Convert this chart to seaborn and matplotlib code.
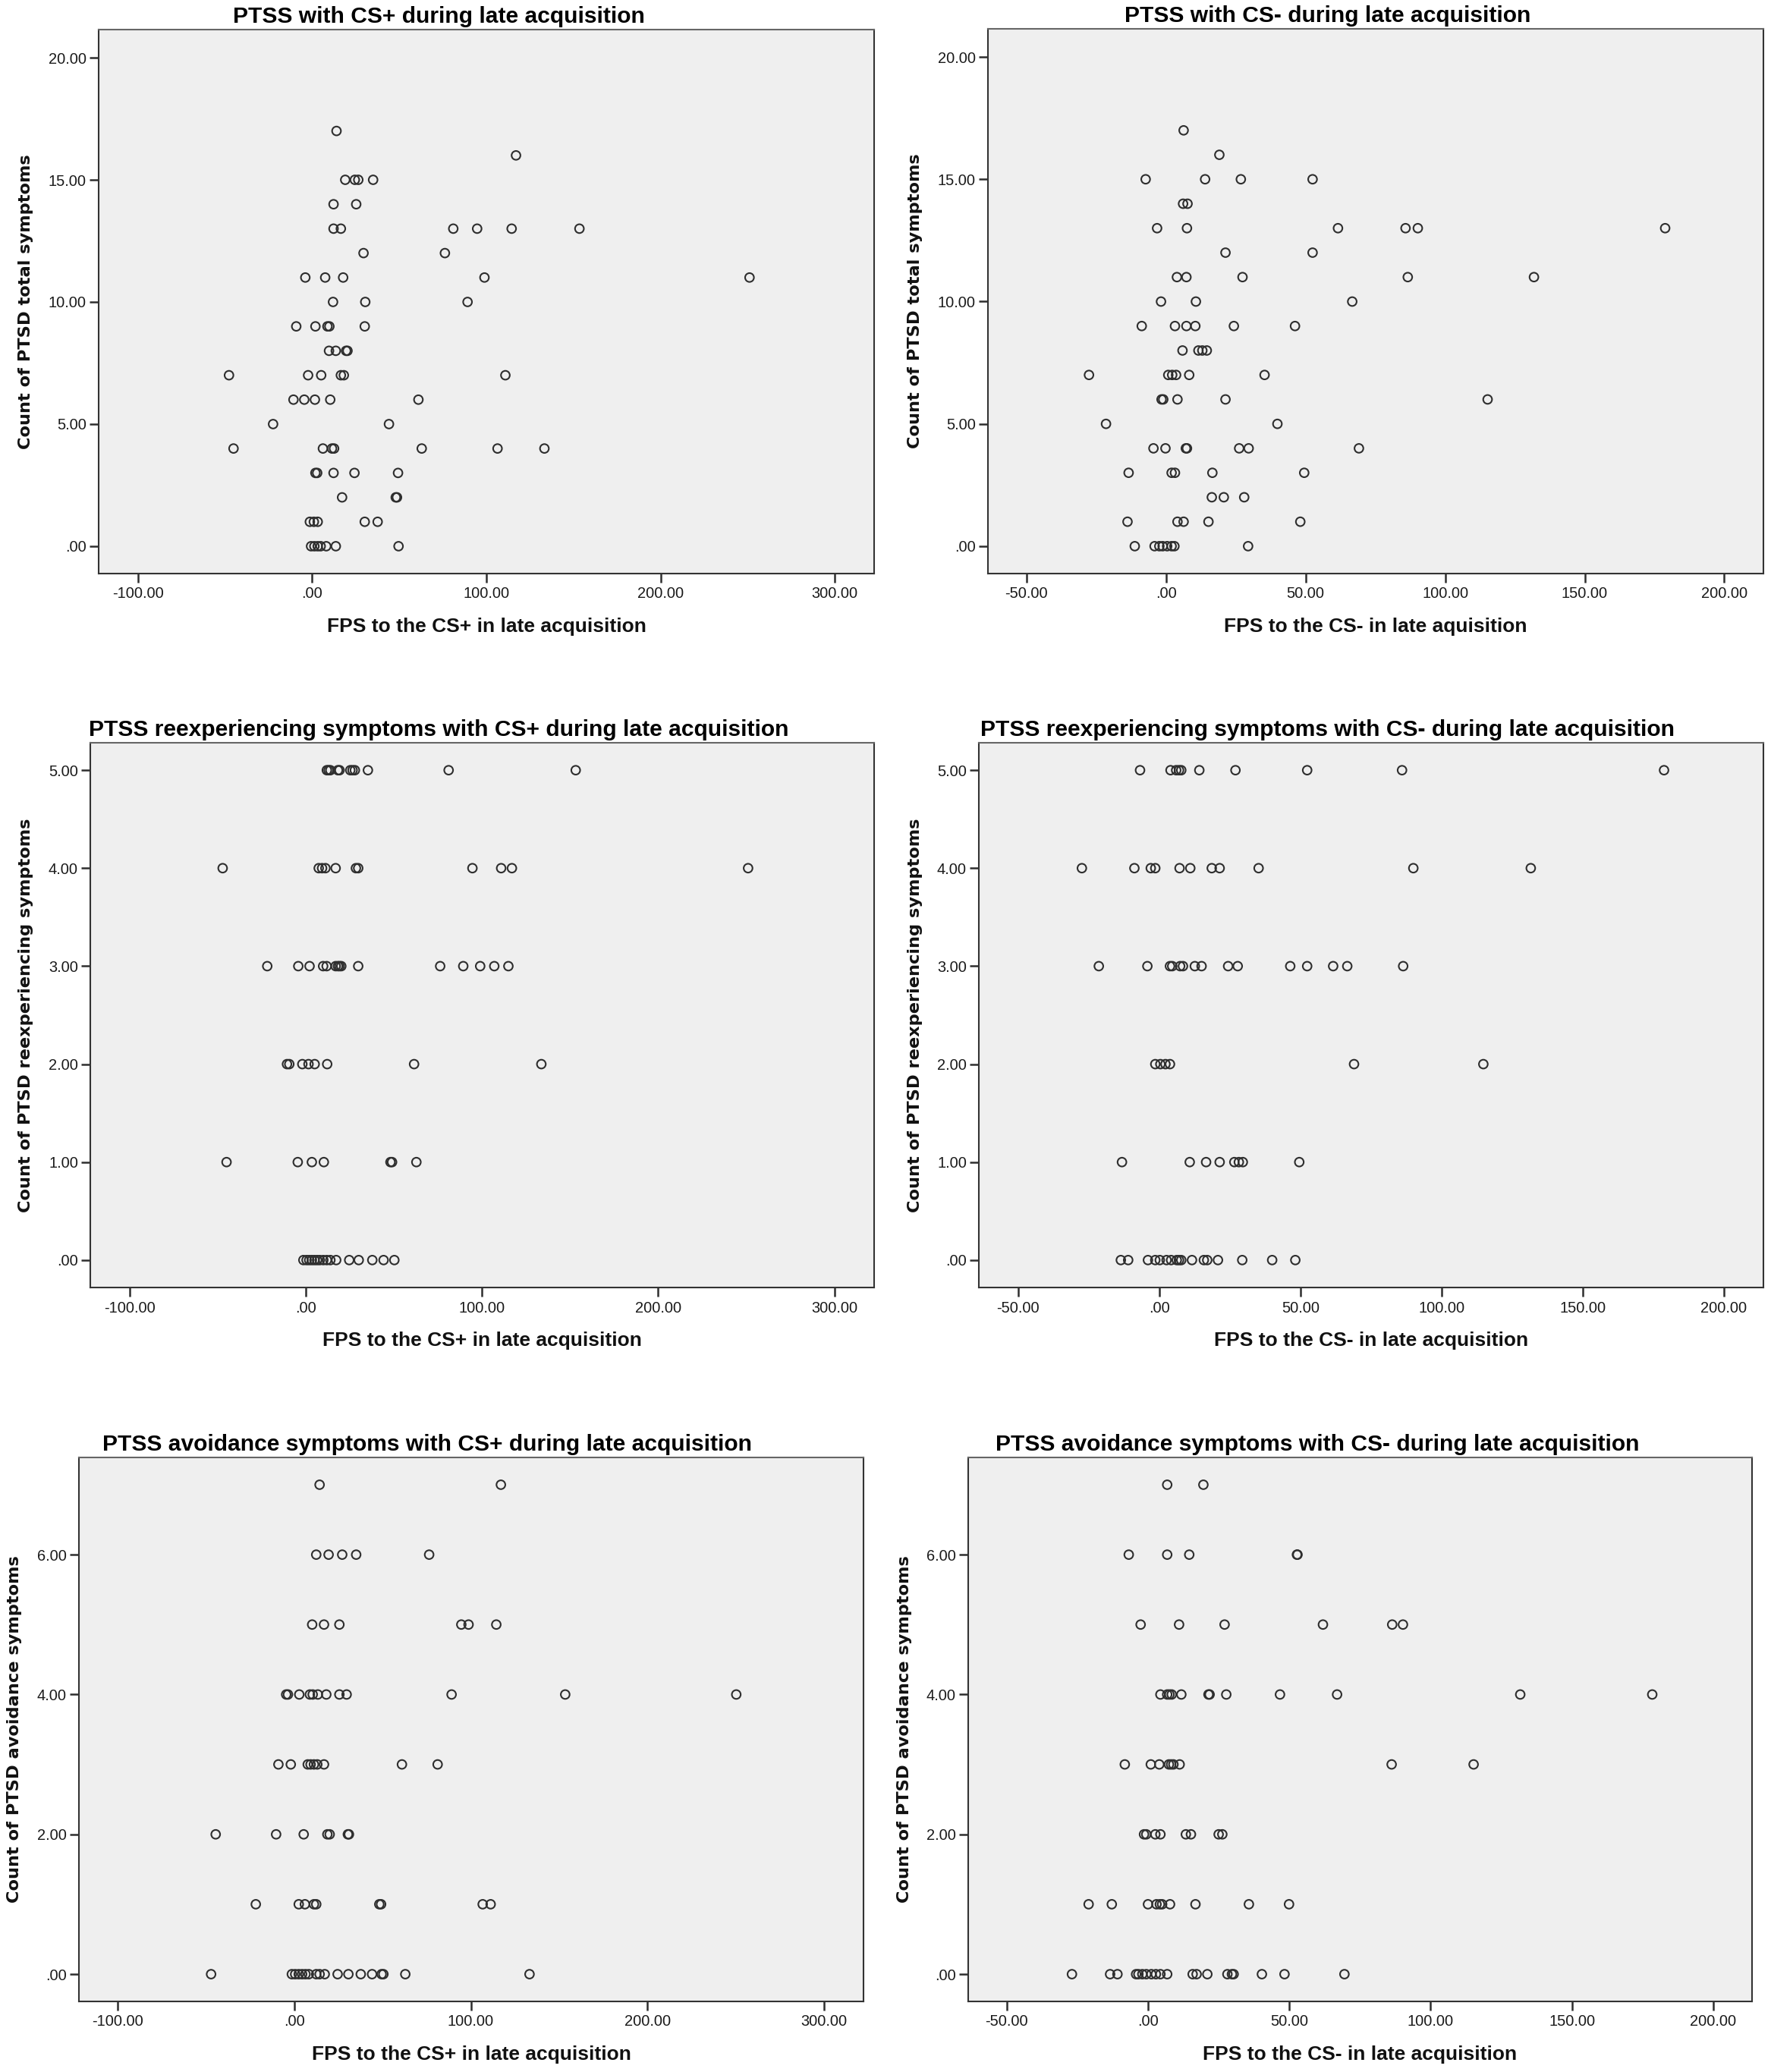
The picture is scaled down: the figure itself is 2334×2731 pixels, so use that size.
import numpy as np
import pandas as pd
import matplotlib
matplotlib.use("Agg")
import matplotlib.pyplot as plt
from matplotlib.ticker import FixedLocator, FuncFormatter
import seaborn as sns

# values, grouped by symptom count (y level)
total_levels = [17, 16, 15, 14, 13, 12, 11, 10, 9, 8, 7, 6, 5, 4, 3, 2, 1, 0]
total_csp = [
    [14], [117], [19, 24.5, 26.5, 35], [12.3, 25.3],
    [12.3, 16.5, 81, 94.7, 114.5, 153.4], [29.5, 76.2],
    [-3.9, 7.5, 17.8, 98.9, 251], [12, 30.5, 89.2],
    [-9.1, 1.9, 8.8, 9.9, 30.2], [9.7, 13.6, 19.5, 20.3],
    [-47.7, -2.3, 5.2, 16.5, 18.2, 110.9], [-10.7, -4.5, 1.6, 10.4, 61],
    [-22.4, 44.1], [-45.1, 6.2, 11.4, 12.6, 62.9, 106.4, 133.3],
    [1.9, 2.9, 12.3, 24.3, 49.3], [17.2, 48, 48.7],
    [-1.3, 1, 3.2, 30.2, 37.6], [-0.6, 1.3, 3.2, 4.9, 8.1, 13.6, 49.6],
]
total_csm = [
    [6.3], [19.1], [-7.3, 14, 26.8, 52.5], [6.1, 7.7],
    [-3.2, 7.5, 61.6, 85.8, 90.2, 178.8], [21.3, 52.5],
    [3.9, 7.3, 27.4, 86.6, 131.8], [-1.8, 10.7, 66.7],
    [-8.7, 3.2, 7.3, 10.5, 24.3, 46.2], [5.9, 11.6, 13, 14.6],
    [-27.6, 0.8, 2.2, 3.6, 8.3, 35.3], [-1.6, -1, 4.1, 21.3, 115.2],
    [-21.5, 39.9], [-4.5, -0.2, 7.1, 7.5, 26.2, 29.6, 69.1],
    [-13.4, 2, 3.2, 16.6, 49.5], [16.4, 20.7, 28],
    [-13.8, 4.1, 6.3, 15.2, 48.1], [-11.2, -4.1, -2.4, -1.2, 0.4, 2, 3, 29.4],
]

reexp_levels = [5, 4, 3, 2, 1, 0]
reexp_csp = [
    [12, 13, 14, 18.3, 19.2, 25.3, 26.6, 27.9, 35.3, 81.1, 153.2],
    [-47.1, 7.4, 9.3, 11.2, 17, 28.5, 29.8, 94.6, 110.9, 117, 251],
    [-21.8, -4.2, 2.2, 9.9, 11.9, 17, 18.3, 19.2, 20.2, 29.8, 76.3, 89.4, 99, 107, 115],
    [-10.6, -9.3, -1.9, 1.6, 5.1, 12.2, 61.5, 133.7],
    [-44.9, -4.5, 3.5, 10.3, 48.1, 49, 62.8],
    [-1.3, 0.5, 2, 3.5, 5, 6.5, 8, 10, 12, 14, 17.3, 24.7, 30.1, 37.8, 44.2, 50.3],
]
reexp_csm = [
    [-6.8, 4, 6, 7, 7.8, 14.2, 27, 52.4, 86, 178.8],
    [-27.4, -8.8, -3, -1.4, 7.2, 11, 18.6, 21.4, 35.2, 90, 131.6],
    [-21.4, -4.2, 3.8, 4.6, 7.4, 8.4, 12.6, 15, 24.4, 27.8, 46.4, 52.4, 61.6, 66.6, 86.4],
    [-1.4, 0.4, 2.2, 3.8, 69, 114.8],
    [-13.2, 10.8, 16.6, 21.4, 26.6, 28.2, 29.6, 49.6],
    [-13.6, -11, -4, -1.4, 0.2, 2.6, 4.2, 6.2, 7, 7.8, 11.6, 15.8, 17, 20.8, 29.4, 40, 48.2],
]

avoid_levels = [7, 6, 5, 4, 3, 2, 1, 0]
avoid_csp = [
    [14.4, 117], [12.5, 19.5, 27.2, 35.1, 76.4],
    [10.2, 16.9, 25.6, 94.6, 98.7, 114.4],
    [-4.5, -3.5, 2.9, 8.9, 10.5, 13.4, 18.2, 25.6, 29.7, 89.1, 153.4, 250.2],
    [-8.9, -1.9, 7.7, 9.3, 11.2, 13.1, 16.9, 61, 81.2],
    [-44.4, -10.2, 5.4, 18.8, 20.1, 30.4, 31],
    [-21.7, 2.6, 6.1, 11.2, 12.5, 48.2, 49.2, 106.7, 111.2],
    [-47, -1.3, 0.6, 2.6, 4.5, 6.4, 8.3, 12.5, 14.4, 17.3, 24.6, 30.7, 37.7, 44.1,
     49.5, 50.5, 62.9, 133.2],
]
avoid_csm = [
    [6.8, 19.6], [-6.8, 6.8, 14.6, 52.7, 52.9],
    [-2.6, 11, 27.1, 61.9, 86.4, 90.2],
    [4.4, 6.8, 7.6, 8.4, 11.8, 21.4, 21.8, 27.7, 46.7, 66.9, 131.7, 178.4],
    [-8.2, 1, 4, 7.4, 8.2, 9, 11.2, 86.2, 115.2],
    [-1.4, -0.6, 2.6, 4.4, 13.4, 15.2, 25, 26.3],
    [-21, -12.8, 0, 3, 4.2, 5, 7.8, 16.8, 35.7, 49.9],
    [-26.9, -13.4, -10.8, -4.2, -3.4, -2, -0.6, 1.2, 2.8, 4.4, 6.8, 15.8, 17.2, 21,
     28.1, 29.7, 30.3, 40.3, 48.3, 69.5],
]

titles = [
    "PTSS with CS+ during late acquisition",
    "PTSS with CS- during late acquisition",
    "PTSS reexperiencing symptoms with CS+ during late acquisition",
    "PTSS reexperiencing symptoms with CS- during late acquisition",
    "PTSS avoidance symptoms with CS+ during late acquisition",
    "PTSS avoidance symptoms with CS- during late acquisition",
]
ylabels = [
    "Count of PTSD total symptoms", "Count of PTSD total symptoms",
    "Count of PTSD reexperiencing symptoms", "Count of PTSD reexperiencing symptoms",
    "Count of PTSD avoidance symptoms", "Count of PTSD avoidance symptoms",
]
xlabels = [
    "FPS to the CS+ in late acquisition", "FPS to the CS- in late aquisition",
    "FPS to the CS+ in late acquisition", "FPS to the CS- in late acquisition",
    "FPS to the CS+ in late acquisition", "FPS to the CS- in late acquisition",
]
xticks_csp = [-100, 0, 100, 200, 300]
xticks_csm = [-50, 0, 50, 100, 150, 200]
yticks_total = [0, 5, 10, 15, 20]
yticks_reexp = [0, 1, 2, 3, 4, 5]
yticks_avoid = [0, 2, 4, 6]


def long_form(levels, groups):
    rows = [(x, lv) for lv, xs in zip(levels, groups) for x in xs]
    return pd.DataFrame(rows, columns=["fps", "count"])


def spss_fmt(v, pos=None):
    s = f"{v:.2f}"
    if s.startswith("0."):
        s = s[1:]
    elif s.startswith("-0."):
        s = "-" + s[2:]
    return s


sns.set_theme(style="white")
plt.rcParams["font.family"] = ["Liberation Sans", "DejaVu Sans"]

W, H = 2334, 2731
fig = plt.figure(figsize=(W / 100, H / 100), dpi=100)

# frame boxes in pixels: left, right, top, bottom ; plus title centre and ylabel centre x
frames = [
    (130, 1152, 39, 756, 578, 34),
    (1302, 2324, 38, 756, 1750, 1206),
    (119, 1152, 979, 1697, 578, 34),
    (1290, 2324, 979, 1697, 1750, 1206),
    (104, 1138, 1921, 2638, 563, 19),
    (1276, 2309, 1921, 2638, 1736, 1192),
]
panels = [
    (long_form(total_levels, total_csp), xticks_csp, yticks_total, (-122.5, 322.5), (-1.12, 21.15)),
    (long_form(total_levels, total_csm), xticks_csm, yticks_total, (-63.8, 214.0), (-1.12, 21.15)),
    (long_form(reexp_levels, reexp_csp), xticks_csp, yticks_reexp, (-122.2, 322.5), (-0.28, 5.28)),
    (long_form(reexp_levels, reexp_csm), xticks_csm, yticks_reexp, (-63.9, 214.0), (-0.28, 5.28)),
    (long_form(avoid_levels, avoid_csp), xticks_csp, yticks_avoid, (-121.8, 322.2), (-0.39, 7.39)),
    (long_form(avoid_levels, avoid_csm), xticks_csm, yticks_avoid, (-63.6, 213.7), (-0.39, 7.39)),
]

for i, (df, xt, yt, xl, yl) in enumerate(panels):
    L, R, T, B, tcx, ycx = frames[i]
    ax = fig.add_axes([L / W, 1 - B / H, (R - L) / W, (B - T) / H])
    ax.set_facecolor("#efefef")
    sns.scatterplot(data=df, x="fps", y="count", ax=ax, marker="o", s=70,
                    facecolor="none", edgecolor="#2e2e2e", linewidth=1.5, zorder=3)
    ax.set_xlim(*xl)
    ax.set_ylim(*yl)
    ax.xaxis.set_major_locator(FixedLocator(xt))
    ax.yaxis.set_major_locator(FixedLocator(yt))
    ax.xaxis.set_major_formatter(FuncFormatter(spss_fmt))
    ax.yaxis.set_major_formatter(FuncFormatter(spss_fmt))
    ax.tick_params(axis="both", which="major", direction="out", length=8.6, width=1.8,
                   color="#2e2e2e", labelsize=14.4, labelcolor="#1a1a1a",
                   bottom=True, left=True, top=False, right=False)
    ax.tick_params(axis="x", pad=4)
    ax.tick_params(axis="y", pad=3)
    for side, sp in ax.spines.items():
        sp.set_visible(True)
        sp.set_linewidth(1.5)
        sp.set_color("#333333" if side != "top" else "#666666")
    ax.grid(False)

    ax.set_title(titles[i], x=(tcx - L) / (R - L), pad=6.3,
                 fontsize=21.6, fontweight="bold", color="black")
    ax.set_xlabel(xlabels[i], fontsize=19, fontweight="bold", color="#111111", va="top")
    ax.xaxis.set_label_coords(0.5, -58 / (B - T))
    ax.set_ylabel(ylabels[i], fontsize=16.2, fontweight="bold", color="#111111",
                  family="DejaVu Sans", va="center")
    ax.yaxis.set_label_coords((ycx - L) / (R - L), 0.5)

fig.savefig("out.png", dpi=100, facecolor="white")
